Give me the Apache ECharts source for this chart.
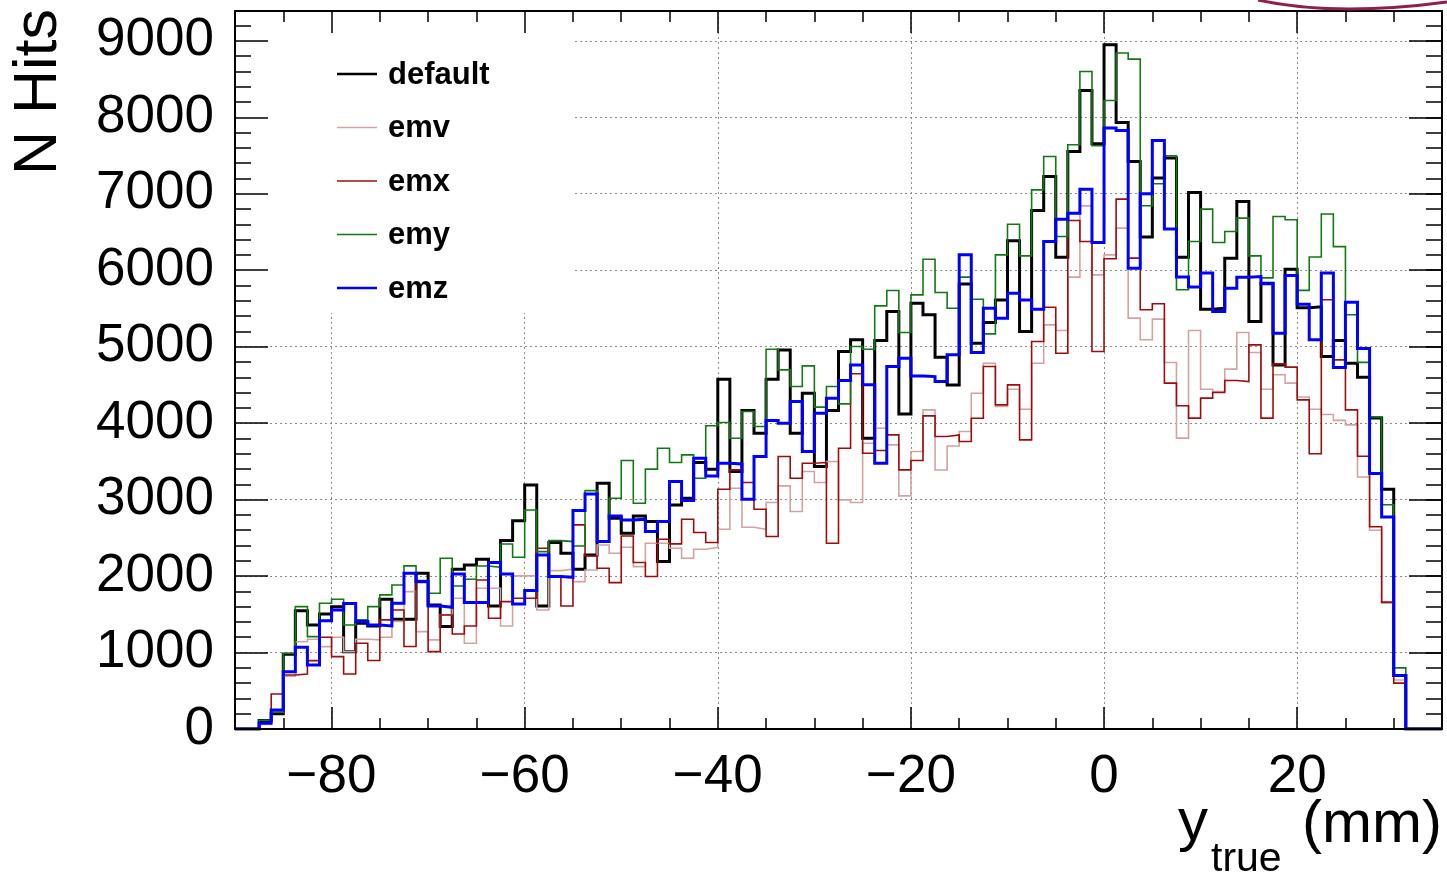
<!DOCTYPE html>
<html>
<head>
<meta charset="utf-8">
<script src="https://cdn.jsdelivr.net/npm/echarts@6/dist/echarts.min.js"></script>
<style>
  html, body { margin: 0; padding: 0; background: #ffffff; }
  #chart { width: 1447px; height: 878px; }
</style>
</head>
<body>
<div id="chart"></div>
<script>
// Histogram binning: 100 bins of 1.25 mm from -90 to 35 mm
const xMin = -90;
const xMax = 35;
const binWidth = 1.25;
const nBins = 100;
const firstFilledBin = 2; // the arrays below start at bin 2 (-87.5 mm); other bins are empty

const seriesNames = ['default', 'emv', 'emx', 'emy', 'emz'];

const hDefault = [110, 200, 977, 1548, 1360, 1504, 1600, 1010, 1383, 1348,
  1697, 1435, 1435, 2037, 1623, 1340, 2089, 2145, 2220, 1609,
  2464, 2725, 3192, 1609, 2438, 2298, 2089, 2276, 3214, 2756,
  2560, 2787, 2713, 2190, 2931, 3018, 3485, 3398, 4575, 3367,
  4165, 3868, 4575, 4958, 3868, 4392, 3432, 4165, 4937, 5089,
  3803, 5081, 5460, 4121, 5569, 5416, 4862, 4500, 5821, 5045,
  5316, 5612, 6384, 5198, 6781, 7226, 6170, 7553, 8350, 7653,
  8949, 7933, 7423, 6433, 7205, 7466, 6171, 7017, 5491, 5504,
  6158, 6899, 5329, 5831, 4762, 6014, 5509, 5522, 4873, 5082,
  4782, 4600, 4068, 3136, 700];

const hEmv = [60, 230, 690, 1142, 1173, 1077, 1199, 1012, 1174, 1165,
  1200, 1405, 1797, 1274, 1165, 1492, 1709, 1121, 1840, 1840,
  1348, 2002, 2002, 1557, 2071, 2089, 1927, 2080, 2407, 2298,
  2376, 2124, 2430, 2430, 2364, 2234, 2351, 2377, 2613, 3149,
  2639, 2613, 2962, 3179, 2844, 3367, 3223, 3498, 2996, 2962,
  3738, 3934, 3716, 3049, 3629, 4173, 3388, 3702, 3890, 4391,
  4784, 4217, 4444, 4182, 4784, 5285, 5211, 5909, 6842, 5939,
  6200, 6551, 5373, 5090, 5360, 4794, 3804, 5212, 4444, 4414,
  4706, 5185, 4924, 4444, 4632, 4523, 4341, 4182, 4113, 4036,
  3977, 3295, 2600, 1645, 640];

const hEmx = [70, 458, 706, 720, 894, 1199, 946, 720, 1121, 895,
  1427, 1557, 1078, 1915, 1012, 1491, 1243, 1348, 1949, 1448,
  1666, 1709, 1709, 2363, 1984, 1609, 2669, 2263, 2102, 1914,
  2525, 2177, 1994, 2482, 2421, 2744, 2569, 2439, 3136, 3389,
  3223, 2874, 2517, 3563, 3280, 3476, 3485, 2430, 3672, 4645,
  3607, 3642, 3847, 3389, 3511, 4095, 3825, 3846, 3759, 4064,
  4740, 4239, 4500, 3781, 5067, 5516, 4915, 6650, 6375, 4937,
  6150, 6930, 6158, 5482, 5561, 4523, 4227, 4065, 4327, 4401,
  4557, 4544, 5024, 4065, 4775, 4732, 4304, 3600, 5613, 4827,
  4173, 3568, 2645, 1659, 600];

const hEmy = [115, 220, 990, 1600, 1208, 1644, 1696, 1360, 1427, 1601,
  1754, 1884, 2133, 1941, 1775, 2233, 1871, 1958, 2132, 2115,
  2420, 2246, 2865, 2320, 2464, 2451, 2394, 3118, 2451, 3017,
  3511, 2953, 3398, 3672, 3485, 3585, 3280, 3965, 4008, 3803,
  4152, 3956, 4967, 4697, 4479, 4749, 4209, 4479, 4252, 5002,
  4967, 5534, 5734, 5185, 5678, 6144, 5708, 5503, 5909, 5621,
  5168, 6201, 6602, 6188, 7051, 7487, 6441, 7640, 8599, 7627,
  8220, 8840, 8761, 6843, 7130, 7497, 5744, 6376, 6799, 6363,
  6506, 6681, 6188, 5900, 6703, 6659, 5736, 6172, 6736, 6309,
  5418, 4795, 4082, 2932, 800];

const hEmz = [80, 248, 750, 1068, 837, 1417, 1556, 1640, 1405, 1360,
  1348, 1645, 2037, 1928, 1610, 1592, 2028, 1653, 1653, 2176,
  2028, 1635, 1810, 2276, 1993, 1984, 2856, 3074, 2451, 2786,
  2734, 2744, 2582, 2713, 3236, 2988, 3542, 3310, 3476, 3467,
  3005, 3563, 4034, 3999, 4283, 3629, 4130, 4326, 4557, 4762,
  4501, 3476, 4740, 4849, 4618, 4609, 4544, 4893, 6201, 4923,
  5503, 5372, 5700, 5612, 5490, 6375, 6668, 6746, 7060, 6362,
  7859, 7828, 6027, 7000, 7697, 6538, 5910, 5779, 5962, 5460,
  5765, 5909, 5918, 5822, 5177, 5930, 5554, 5091, 5963, 4727,
  5581, 4977, 3341, 2773, 700];

// Axis ticks
const yMax = 9390;
const yMajorStep = 1000;
const yMinorStep = 200;
const xMajorTicks = [-80, -60, -40, -20, 0, 20];
const xMinorStep = 5;

const seriesColors = ['#000000', '#d4a2a2', '#a00c0c', '#127a12', '#0000ff'];
const seriesWidths = [3, 1.6, 1.6, 1.6, 3];
const seriesValues = [hDefault, hEmv, hEmx, hEmy, hEmz];

const FONT = '"Liberation Sans", Arial, Helvetica, sans-serif';

// Step outline of a histogram: one point per bin low edge, closed at the upper edge
function histogramPoints(values) {
  const pts = [];
  let last = 0;
  for (let k = 0; k < nBins; k++) {
    const idx = k - firstFilledBin;
    const v = (idx >= 0 && idx < values.length) ? values[idx] : 0;
    pts.push([xMin + k * binWidth, v]);
    last = v;
  }
  pts.push([xMax, last]);
  return pts;
}

const minusFmt = v => String(v).replace('-', '\u2212');
const plainFmt = v => String(Math.round(v));

const gridLine = { color: '#8c8c8c', width: 1, type: [2, 3] };

function xAxisDef(position, major, withLabels) {
  return {
    type: 'value', gridIndex: 0, position: position,
    min: xMin, max: xMax,
    interval: major ? undefined : xMinorStep,
    z: 6,
    axisLine: { show: major, onZero: false, lineStyle: { color: '#000', width: 2 } },
    axisTick: major
      ? { show: true, inside: true, length: 22, customValues: xMajorTicks, lineStyle: { color: '#000', width: 1.5 } }
      : { show: true, inside: true, length: 11, lineStyle: { color: '#000', width: 1.5 } },
    axisLabel: major && withLabels
      ? { show: true, customValues: xMajorTicks, formatter: minusFmt, margin: 22,
          color: '#000', fontSize: 53, fontFamily: FONT }
      : { show: false },
    splitLine: { show: false }
  };
}

function yAxisDef(position, major, withLabels, withGrid) {
  return {
    type: 'value', gridIndex: 0, position: position,
    min: 0, max: yMax,
    interval: major ? yMajorStep : yMinorStep,
    z: withGrid ? 0 : 6,
    axisLine: { show: major, onZero: false, lineStyle: { color: '#000', width: 2 } },
    axisTick: { show: true, inside: true, length: major ? 33 : 16, lineStyle: { color: '#000', width: 1.5 } },
    axisLabel: withLabels
      ? { show: true, showMaxLabel: false, formatter: plainFmt, margin: 21,
          color: '#000', fontSize: 53, fontFamily: FONT }
      : { show: false },
    splitLine: withGrid ? { show: true, lineStyle: gridLine } : { show: false }
  };
}

const series = seriesNames.map((name, i) => ({
  name: name,
  type: 'line',
  xAxisIndex: 0,
  yAxisIndex: 0,
  step: 'end',
  symbol: 'none',
  showSymbol: false,
  clip: true,
  z: 2 + i * 0.01,
  lineStyle: { color: seriesColors[i], width: seriesWidths[i], join: 'miter' },
  itemStyle: { color: seriesColors[i] },
  data: histogramPoints(seriesValues[i]),
  animation: false,
  silent: true
}));

// Vertical dotted grid lines at the major x ticks
series.unshift({
  name: 'xgrid',
  type: 'line',
  xAxisIndex: 0,
  yAxisIndex: 0,
  data: [],
  silent: true,
  animation: false,
  markLine: {
    silent: true,
    z: 0,
    symbol: ['none', 'none'],
    label: { show: false },
    lineStyle: gridLine,
    emphasis: { disabled: true },
    data: xMajorTicks.map(v => ({ xAxis: v }))
  }
});

// Legend drawn as line samples plus bold labels on a white box
const legendX = 337, legendTextX = 388, legendY0 = 74, legendStep = 53.5;
const legendElements = [{
  type: 'rect', z: 1, silent: true,
  shape: { x: 237, y: 13, width: 335, height: 300 },
  style: { fill: '#ffffff' }
}];
seriesNames.forEach((name, i) => {
  const yc = legendY0 + i * legendStep;
  legendElements.push({
    type: 'line', z: 10, silent: true,
    shape: { x1: legendX, y1: yc, x2: legendX + 40, y2: yc },
    style: { stroke: seriesColors[i], lineWidth: seriesWidths[i] === 3 ? 2.5 : 1.6 }
  });
  legendElements.push({
    type: 'text', z: 10, silent: true,
    x: legendTextX, y: yc + 1,
    style: { text: name, fill: '#000', font: 'bold 31px ' + FONT, align: 'left', verticalAlign: 'middle' }
  });
});

const titleElements = [
  { type: 'text', z: 10, silent: true, x: 39, y: 9, rotation: Math.PI / 2,
    style: { text: 'N Hits', fill: '#000', font: '61px ' + FONT, align: 'right', verticalAlign: 'middle' } },
  { type: 'text', z: 10, silent: true, x: 1178, y: 823,
    style: { text: 'y', fill: '#000', font: '60px ' + FONT, align: 'left', verticalAlign: 'middle' } },
  { type: 'text', z: 10, silent: true, x: 1211, y: 860,
    style: { text: 'true', fill: '#000', font: '41px ' + FONT, align: 'left', verticalAlign: 'middle' } },
  { type: 'text', z: 10, silent: true, x: 1442, y: 825,
    style: { text: '(mm)', fill: '#000', font: '60px ' + FONT, align: 'right', verticalAlign: 'middle' } },
  { type: 'bezierCurve', z: 10, silent: true,
    shape: { x1: 1258, y1: 0, cpx1: 1335, cpy1: 17, x2: 1447, y2: 2 },
    style: { stroke: '#8e1f4f', lineWidth: 3, fill: null } }
];

const chart = echarts.init(document.getElementById('chart'), null, { renderer: 'canvas' });
chart.setOption({
  animation: false,
  backgroundColor: '#ffffff',
  grid: [{ left: 235, top: 11, width: 1207, height: 718, outerBoundsMode: 'none', containLabel: false }],
  xAxis: [
    xAxisDef('bottom', true, true),
    xAxisDef('bottom', false, false),
    xAxisDef('top', true, false),
    xAxisDef('top', false, false)
  ],
  yAxis: [
    yAxisDef('left', true, true, false),
    yAxisDef('left', false, false, false),
    yAxisDef('right', true, false, true),
    yAxisDef('right', false, false, false)
  ],
  legend: { show: false },
  tooltip: { show: false },
  graphic: { elements: legendElements.concat(titleElements) },
  series: series
});
</script>
</body>
</html>
